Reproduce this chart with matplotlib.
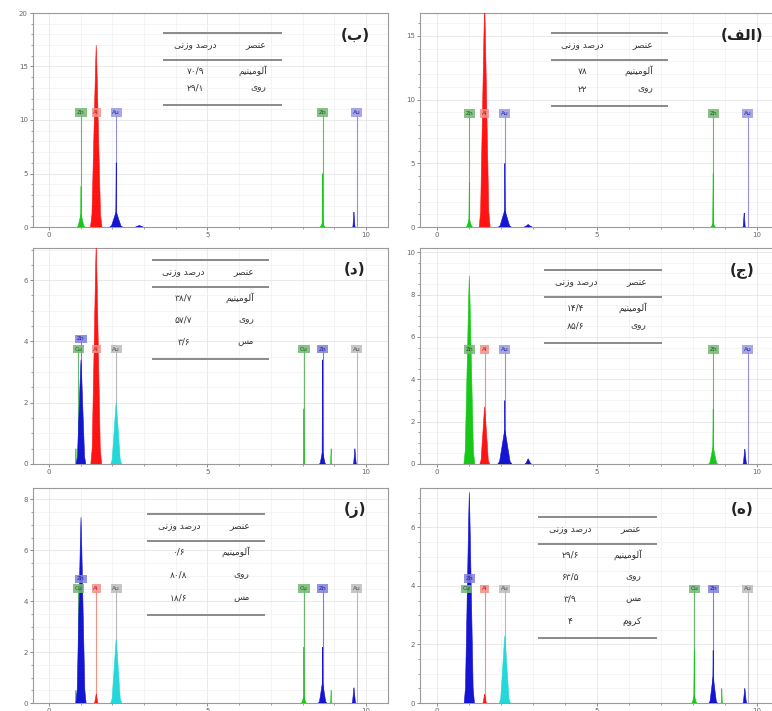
import matplotlib
matplotlib.use('Agg')
import matplotlib.pyplot as plt
from matplotlib.ticker import MultipleLocator, AutoMinorLocator

plt.rcParams['font.family'] = ['DejaVu Sans']

# ---------------- data ----------------
panel_tags = ['ب', 'الف', 'د', 'ج', 'ز', 'ه']
y_tops = [20.0, 16.8, 7.05, 10.2, 8.45, 7.35]
y_steps = [5, 5, 2, 2, 2, 2]

head_element = 'عنصر'
head_percent = 'درصد وزنی'
element_fa = {'Al': 'آلومینیم', 'Zn': 'روی', 'Cu': 'مس', 'Cr': 'کروم'}

table_b = [('Al', '۷۰/۹'), ('Zn', '۲۹/۱')]
table_alef = [('Al', '۷۸'), ('Zn', '۲۲')]
table_d = [('Al', '۳۸/۷'), ('Zn', '۵۷/۷'), ('Cu', '۳/۶')]
table_j = [('Al', '۱۴/۴'), ('Zn', '۸۵/۶')]
table_z = [('Al', '۰/۶'), ('Zn', '۸۰/۸'), ('Cu', '۱۸/۶')]
table_h = [('Al', '۲۹/۶'), ('Zn', '۶۳/۵'), ('Cu', '۳/۹'), ('Cr', '۴')]

# element markers: symbol, energy (keV), label height
markers_b = [('Zn', 1.01, 10.7), ('Al', 1.49, 10.7), ('Au', 2.12, 10.7),
             ('Zn', 8.63, 10.7), ('Au', 9.71, 10.7)]
markers_alef = [('Zn', 1.01, 8.9), ('Al', 1.49, 8.9), ('Au', 2.12, 8.9),
                ('Zn', 8.63, 8.9), ('Au', 9.71, 8.9)]
markers_d = [('Cu', 0.93, 3.75), ('Zn', 1.01, 4.08), ('Al', 1.49, 3.75), ('Au', 2.12, 3.75),
             ('Cu', 8.04, 3.75), ('Zn', 8.63, 3.75), ('Au', 9.71, 3.75)]
markers_j = [('Zn', 1.01, 5.4), ('Al', 1.49, 5.4), ('Au', 2.12, 5.4),
             ('Zn', 8.63, 5.4), ('Au', 9.71, 5.4)]
markers_z = [('Cu', 0.93, 4.5), ('Zn', 1.01, 4.88), ('Al', 1.49, 4.5), ('Au', 2.12, 4.5),
             ('Cu', 8.04, 4.5), ('Zn', 8.63, 4.5), ('Au', 9.71, 4.5)]
markers_h = [('Cu', 0.93, 3.9), ('Zn', 1.01, 4.25), ('Al', 1.49, 3.9), ('Au', 2.12, 3.9),
             ('Cu', 8.04, 3.9), ('Zn', 8.63, 3.9), ('Au', 9.71, 3.9)]

# spectrum peaks: line, energy (keV), counts, half width at base (keV)
peaks_b = [('Zn L', 1.01, 1.2, 0.12), ('Zn L', 1.01, 3.8, 0.02), ('Al K', 1.49, 17.0, 0.18),
           ('Au M', 2.12, 1.4, 0.2), ('Au M', 2.12, 6.0, 0.02), ('Au M', 2.85, 0.15, 0.12),
           ('Zn K', 8.63, 0.35, 0.08), ('Zn K', 8.63, 5.0, 0.02), ('Au L', 9.62, 1.4, 0.04)]
peaks_alef = [('Zn L', 1.01, 0.6, 0.1), ('Zn L', 1.01, 3.5, 0.02), ('Al K', 1.49, 17.5, 0.17),
              ('Au M', 2.12, 1.3, 0.2), ('Au M', 2.12, 5.0, 0.02), ('Au M', 2.85, 0.2, 0.12),
              ('Zn K', 8.63, 0.3, 0.07), ('Zn K', 8.63, 4.2, 0.02), ('Au L', 9.6, 1.1, 0.04)]
peaks_d = [('Cu L', 0.85, 0.5, 0.02), ('Zn L', 1.01, 3.4, 0.15), ('Al K', 1.49, 7.2, 0.17),
           ('Au M', 2.12, 2.0, 0.17), ('Cu K', 8.04, 1.8, 0.02), ('Zn K', 8.63, 0.4, 0.1),
           ('Zn K', 8.63, 3.4, 0.02), ('Cu K', 8.9, 0.5, 0.02), ('Au L', 9.65, 0.5, 0.05)]
peaks_j = [('Zn L', 1.01, 8.9, 0.17), ('Al K', 1.49, 2.7, 0.15), ('Au M', 2.12, 1.6, 0.22),
           ('Au M', 2.12, 3.0, 0.02), ('Au M', 2.85, 0.25, 0.1), ('Zn K', 8.63, 0.8, 0.14),
           ('Zn K', 8.63, 2.6, 0.02), ('Au L', 9.62, 0.7, 0.06)]
peaks_z = [('Cu L', 0.85, 0.5, 0.02), ('Zn L', 1.01, 7.3, 0.16), ('Al K', 1.49, 0.35, 0.06),
           ('Au M', 2.12, 2.5, 0.17), ('Cu K', 8.04, 0.25, 0.08), ('Cu K', 8.04, 2.2, 0.02),
           ('Zn K', 8.63, 0.8, 0.13), ('Zn K', 8.63, 2.2, 0.02), ('Cu K', 8.9, 0.5, 0.02),
           ('Au L', 9.62, 0.6, 0.06)]
peaks_h = [('Cu L', 0.9, 0.4, 0.02), ('Zn L', 1.01, 7.2, 0.16), ('Al K', 1.49, 0.3, 0.06),
           ('Au M', 2.12, 2.3, 0.17), ('Cu K', 8.04, 0.25, 0.08), ('Cu K', 8.04, 1.8, 0.02),
           ('Zn K', 8.63, 0.9, 0.13), ('Zn K', 8.63, 1.8, 0.02), ('Cu K', 8.9, 0.5, 0.02),
           ('Au L', 9.62, 0.5, 0.06)]

tables = [table_b, table_alef, table_d, table_j, table_z, table_h]
markers = [markers_b, markers_alef, markers_d, markers_j, markers_z, markers_h]
peaks = [peaks_b, peaks_alef, peaks_d, peaks_j, peaks_z, peaks_h]

# ---------------- styles ----------------
GREEN, RED, BLUE, CYAN = '#18c818', '#ff1414', '#1414d2', '#22d8d8'
spec_top = {'Zn L': GREEN, 'Zn K': GREEN, 'Al K': RED, 'Au M': BLUE, 'Au L': BLUE}
spec_cu = {'Cu L': GREEN, 'Cu K': GREEN, 'Zn L': BLUE, 'Zn K': BLUE,
           'Al K': RED, 'Au M': CYAN, 'Au L': BLUE}
# marker line colour, label box colour, label text colour
box_top = {'Zn': ('#6ab86a', '#72b872', '#1d561d'), 'Al': ('#f29088', '#f0928a', '#b81818'),
           'Au': ('#9090e8', '#9898e6', '#24248c')}
box_cu = {'Cu': ('#6ab86a', '#72b872', '#1d561d'), 'Zn': ('#7c7ce4', '#8080e0', '#20208a'),
          'Al': ('#f29088', '#f0928a', '#b81818'), 'Au': ('#b8b8b8', '#bcbcbc', '#505050')}
spec_pal = [spec_top, spec_top, spec_cu, spec_top, spec_cu, spec_cu]
box_pal = [box_top, box_top, box_cu, box_top, box_cu, box_cu]

# table layout in pixels from the axes top-left: top rule y, rule x0, x1, row step
table_px = [(20, 130, 249, 17), (20, 131, 248, 18), (12, 119, 236, 22),
            (22, 124, 242, 18), (26, 114, 232, 23), (29, 118, 237, 22)]

# ---------------- Persian shaping (visual order) ----------------
FORMS = {
    'ا': ('\uFE8D', '\uFE8E', None, None), 'آ': ('\uFE81', '\uFE82', None, None),
    'ب': ('\uFE8F', '\uFE90', '\uFE91', '\uFE92'), 'ج': ('\uFE9D', '\uFE9E', '\uFE9F', '\uFEA0'),
    'د': ('\uFEA9', '\uFEAA', None, None), 'ر': ('\uFEAD', '\uFEAE', None, None),
    'ز': ('\uFEAF', '\uFEB0', None, None), 'س': ('\uFEB1', '\uFEB2', '\uFEB3', '\uFEB4'),
    'ص': ('\uFEB9', '\uFEBA', '\uFEBB', '\uFEBC'), 'ع': ('\uFEC9', '\uFECA', '\uFECB', '\uFECC'),
    'ف': ('\uFED1', '\uFED2', '\uFED3', '\uFED4'), 'ک': ('\uFED9', '\uFEDA', '\uFEDB', '\uFEDC'),
    'ل': ('\uFEDD', '\uFEDE', '\uFEDF', '\uFEE0'), 'م': ('\uFEE1', '\uFEE2', '\uFEE3', '\uFEE4'),
    'ن': ('\uFEE5', '\uFEE6', '\uFEE7', '\uFEE8'), 'ه': ('\uFEE9', '\uFEEA', '\uFEEB', '\uFEEC'),
    'و': ('\uFEED', '\uFEEE', None, None), 'ی': ('\uFEEF', '\uFEF0', '\uFEF3', '\uFEF4'),
}


def fa(text):
    out = []
    for i, ch in enumerate(text):
        if ch not in FORMS:
            out.append(ch)
            continue
        prev = text[i - 1] if i > 0 else ''
        nxt = text[i + 1] if i + 1 < len(text) else ''
        iso, fin, ini, med = FORMS[ch]
        jp = prev in FORMS and FORMS[prev][2] is not None
        jn = nxt in FORMS and ini is not None
        if jp and jn:
            out.append(med)
        elif jp:
            out.append(fin)
        elif jn:
            out.append(ini)
        else:
            out.append(iso)
    return ''.join(reversed(out))


# peak outline (fractions of half width / height)
PX = [-1, -0.75, -0.45, -0.12, 0, 0.12, 0.45, 0.75, 1]
PY = [0, 0.07, 0.45, 0.88, 1, 0.88, 0.45, 0.07, 0]

W, H = 772, 711
fig = plt.figure(figsize=(W / 100, H / 100), dpi=100)

col_px = [(33, 388, 49, 31.7), (420, 780, 437, 32.0)]   # left, right, zero px, px per keV
row_px = [(13, 227), (248, 464), (488, 703)]

for k in range(6):
    r, c = divmod(k, 2)
    lx, rx, zx, sc = col_px[c]
    ty, by = row_px[r]
    ax = fig.add_axes([lx / W, 1 - by / H, (rx - lx) / W, (by - ty) / H])
    ax.set_xlim((lx - zx) / sc, (rx - zx) / sc)
    ax.set_ylim(0, y_tops[k])
    ax.xaxis.set_major_locator(MultipleLocator(5))
    ax.xaxis.set_minor_locator(MultipleLocator(1))
    ax.yaxis.set_major_locator(MultipleLocator(y_steps[k]))
    ax.yaxis.set_minor_locator(AutoMinorLocator(y_steps[k] if y_steps[k] == 5 else 4))
    ax.grid(True, which='major', color='#e2e2e2', lw=0.5, zorder=0)
    ax.grid(True, which='minor', color='#f0f0f0', lw=0.5, zorder=0)
    ax.tick_params(which='both', labelsize=5, colors='#777', labelcolor='#666', pad=1.2)
    ax.tick_params(which='major', length=2.5, width=0.6)
    ax.tick_params(which='minor', length=1.5, width=0.5)
    for s in ax.spines.values():
        s.set_color('#9a9a9a')
        s.set_linewidth(0.8)
    ax.set_axisbelow(True)

    # marker lines + labels
    for el, e, ly in markers[k]:
        line_c, box_c, txt_c = box_pal[k][el]
        ax.plot([e, e], [0, ly], color=line_c, lw=0.8, zorder=2)
        ax.text(e, ly, el, fontsize=4.2, color=txt_c, ha='center', va='center', zorder=3.5,
                bbox=dict(boxstyle='square,pad=0.3', fc=box_c, ec='none', alpha=0.85))

    # spectrum peaks
    for line, e, h, w in peaks[k]:
        col = spec_pal[k][line]
        xs = [e + w * p for p in PX]
        ys = [h * p for p in PY]
        ax.fill(xs, ys, color=col, lw=0.4, ec=col, zorder=3)

    # table
    tpx, x0, x1, step = table_px[k]
    axw, axh = rx - lx, by - ty

    def fx(px):
        return px / axw

    def fy(py):
        return 1 - py / axh

    rows = tables[k]
    last = tpx + 38 + step * (len(rows) - 1)
    for ry in (tpx, tpx + 27, last + 17):
        ax.plot([fx(x0), fx(x1)], [fy(ry), fy(ry)], transform=ax.transAxes,
                color='#8a8a8a', lw=1.4, zorder=4, solid_capstyle='butt')
    xr = x0 + 0.87 * (x1 - x0)
    xv = x0 + 0.27 * (x1 - x0)
    ax.text(fx(xr), fy(tpx + 13), fa(head_element), transform=ax.transAxes, fontsize=6.5,
            ha='right', va='center', color='#333', zorder=5)
    ax.text(fx(xv), fy(tpx + 13), fa(head_percent), transform=ax.transAxes, fontsize=6.5,
            ha='center', va='center', color='#333', zorder=5)
    for i, (el, val) in enumerate(rows):
        yy = fy(tpx + 38 + step * i)
        ax.text(fx(xr), yy, fa(element_fa[el]), transform=ax.transAxes, fontsize=6.5,
                ha='right', va='center', color='#333', zorder=5)
        ax.text(fx(xv), yy, val, transform=ax.transAxes, fontsize=6.5,
                ha='center', va='center', color='#333', zorder=5)

    # panel tag
    ax.text(fx(322), fy(22), '(' + fa(panel_tags[k]) + ')', transform=ax.transAxes,
            fontsize=11, fontweight='bold', ha='center', va='center', color='#222', zorder=5)

fig.savefig('out.png', dpi=100)
